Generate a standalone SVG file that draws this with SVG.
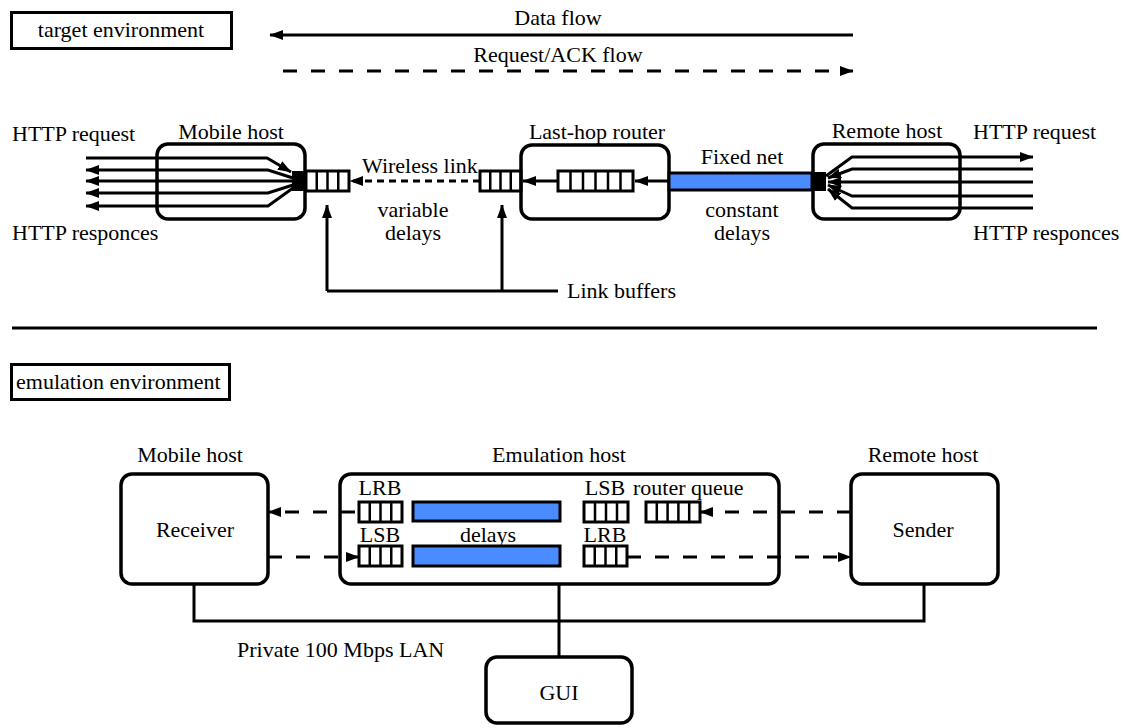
<svg xmlns="http://www.w3.org/2000/svg" width="1125" height="728" viewBox="0 0 1125 728" font-family="'Liberation Serif', 'DejaVu Serif', serif" font-size="22">
<defs>
<marker id="ah" markerUnits="userSpaceOnUse" markerWidth="14" markerHeight="11" refX="13" refY="5.5" orient="auto" viewBox="0 0 14 11">
<path d="M0,0.5 L13.5,5.5 L0,10.5 z" fill="#000"/>
</marker>
<style>
text{font-family:'Liberation Serif','DejaVu Serif',serif;font-size:22px;fill:#000}
.c{text-anchor:middle}
.box{fill:#fff;stroke:#000;stroke-width:3}
.rbox{fill:none;stroke:#000;stroke-width:3.5}
.ln{fill:none;stroke:#000;stroke-width:3}
.dash{fill:none;stroke:#000;stroke-width:3;stroke-dasharray:14 14}
.sdash{fill:none;stroke:#000;stroke-width:3;stroke-dasharray:7 5}
.q{fill:#fff;stroke:#000;stroke-width:3}
.qd{fill:none;stroke:#000;stroke-width:2.5}
.blue{fill:#4a8cff;stroke:#000;stroke-width:3}
.arr{marker-end:url(#ah)}
</style>
</defs>

<!-- legend -->
<g id="legend-target">
<rect class="box" x="11.5" y="12.5" width="220" height="36"/>
<text class="c" x="121" y="37">target environment</text>
</g>
<g id="legend-flows">
<text class="c" x="558" y="25">Data flow</text>
<text class="c" x="558" y="62">Request/ACK flow</text>
</g>

<!-- target environment nodes -->
<g id="mobile-host-top">
<rect class="rbox" x="157" y="144" width="148" height="75" rx="11"/>
<text class="c" x="231" y="139">Mobile host</text>
<rect x="292" y="171" width="14" height="20" fill="#000"/>
</g>
<g id="mh-queue">
<rect class="q" x="306" y="171" width="43" height="20"/>
<path class="qd" d="M316.75,171V191M327.5,171V191M338.25,171V191"/>
</g>
<g id="router-in-queue">
<rect class="q" x="480" y="171" width="41" height="20"/>
<path class="qd" d="M490.25,171V191M500.5,171V191M510.75,171V191"/>
</g>
<g id="last-hop-router">
<rect class="rbox" x="521" y="145" width="148" height="74" rx="11"/>
<text class="c" x="597" y="139">Last-hop router</text>
<rect class="q" x="558" y="171" width="75" height="20"/>
<path class="qd" d="M570.5,171V191M583,171V191M595.5,171V191M608,171V191M620.5,171V191"/>
</g>
<g id="fixed-net">
<rect class="blue" x="669" y="173" width="143" height="17"/>
<text class="c" x="742" y="164">Fixed net</text>
<text class="c" x="742" y="217">constant</text>
<text class="c" x="742" y="240">delays</text>
</g>
<g id="remote-host-top">
<rect class="rbox" x="813" y="144" width="147" height="75" rx="11"/>
<text class="c" x="887" y="138">Remote host</text>
<rect x="812" y="172" width="14" height="19" fill="#000"/>
</g>
<g id="labels-top">
<text x="12" y="141">HTTP request</text>
<text x="12" y="240">HTTP responces</text>
<text x="362" y="173">Wireless link</text>
<text class="c" x="413" y="217">variable</text>
<text class="c" x="413" y="240">delays</text>
<text x="973" y="139">HTTP request</text>
<text x="973" y="240">HTTP responces</text>
<text x="567" y="298">Link buffers</text>
</g>

<!-- separator -->
<g id="separator">
<line class="ln" x1="12" y1="328" x2="1097" y2="328"/>
</g>

<!-- emulation environment -->
<g id="legend-emulation">
<rect class="box" x="11.5" y="364.5" width="218" height="35"/>
<text x="16" y="389">emulation environment</text>
</g>
<g id="receiver">
<rect class="rbox" x="121" y="474" width="147" height="110" rx="11"/>
<text class="c" x="190" y="462">Mobile host</text>
<text class="c" x="195" y="537">Receiver</text>
</g>
<g id="emulation-host">
<rect class="rbox" x="340" y="474" width="439" height="110" rx="11"/>
<text class="c" x="559" y="462">Emulation host</text>
<text class="c" x="380" y="495">LRB</text>
<text class="c" x="380" y="542">LSB</text>
<text class="c" x="488" y="542">delays</text>
<text class="c" x="605" y="495">LSB</text>
<text x="633" y="495">router queue</text>
<text class="c" x="605" y="542">LRB</text>
<rect class="q" x="359" y="502" width="43" height="20"/>
<path class="qd" d="M369.75,502V522M380.5,502V522M391.25,502V522"/>
<rect class="q" x="359" y="546" width="43" height="20"/>
<path class="qd" d="M369.75,546V566M380.5,546V566M391.25,546V566"/>
<rect class="blue" x="413" y="502" width="147" height="19"/>
<rect class="blue" x="413" y="546" width="147" height="20"/>
<rect class="q" x="584" y="502" width="44" height="20"/>
<path class="qd" d="M595,502V522M606,502V522M617,502V522"/>
<rect class="q" x="646" y="502" width="54" height="20"/>
<path class="qd" d="M656.8,502V522M667.6,502V522M678.4,502V522M689.2,502V522"/>
<rect class="q" x="584" y="546" width="43" height="20"/>
<path class="qd" d="M594.75,546V566M605.5,546V566M616.25,546V566"/>
</g>
<g id="sender">
<rect class="rbox" x="851" y="474" width="147" height="110" rx="11"/>
<text class="c" x="923" y="462">Remote host</text>
<text class="c" x="923" y="537">Sender</text>
</g>
<g id="gui">
<rect class="rbox" x="486" y="657" width="146" height="66" rx="11"/>
<text class="c" x="559" y="700">GUI</text>
</g>
<g id="lan-label">
<text x="237" y="657">Private 100 Mbps LAN</text>
</g>

<!-- connectors -->
<g id="connectors">
<line class="ln arr" x1="853" y1="35" x2="270" y2="35"/>
<line class="dash arr" x1="283" y1="71" x2="853" y2="71"/>

<path class="ln arr" d="M86,158 H267 L291,172"/>
<path class="ln arr" d="M293,178 L268,170 H86"/>
<path class="ln arr" d="M293,181 H86"/>
<path class="ln arr" d="M293,185 L268,193 H86"/>
<path class="ln arr" d="M293,188 L268,206 H86"/>

<line class="sdash arr" x1="480" y1="181" x2="350" y2="181"/>
<line class="ln arr" x1="558" y1="181" x2="523" y2="181"/>
<line class="ln arr" x1="669" y1="181" x2="635" y2="181"/>

<path class="ln arr" d="M826,176 L852,157 H1033"/>
<path class="ln arr" d="M1033,169 H852 L828,178"/>
<path class="ln arr" d="M1033,182 H828"/>
<path class="ln arr" d="M1033,196 H852 L828,185"/>
<path class="ln arr" d="M1033,208 H852 L828,189"/>

<path class="ln" d="M558,291 H327"/>
<line class="ln arr" x1="327" y1="291" x2="327" y2="205"/>
<line class="ln arr" x1="502" y1="291" x2="502" y2="205"/>

<line class="dash arr" x1="355" y1="512" x2="268" y2="512"/>
<line class="dash arr" x1="268" y1="557" x2="359" y2="557"/>
<line class="dash arr" x1="851" y1="512" x2="700" y2="512"/>
<line class="dash arr" x1="627" y1="557" x2="851" y2="557"/>

<path class="ln" d="M194,584 V621 H924 V584"/>
<line class="ln" x1="559" y1="584" x2="559" y2="657"/>
</g>
</svg>
